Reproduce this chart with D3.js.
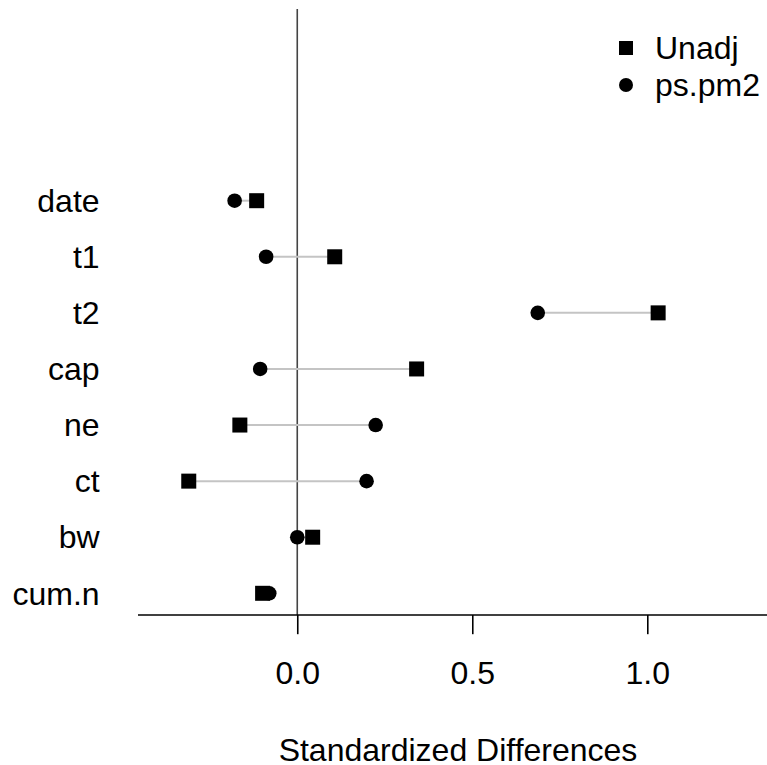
<!DOCTYPE html>
<html>
<head>
<meta charset="utf-8">
<script src="https://cdn.jsdelivr.net/npm/d3@7"></script>
<style>
  body { margin: 0; background: #fff; }
  text { font-family: "Liberation Sans", Arial, Helvetica, sans-serif; }
</style>
</head>
<body>
<svg id="chart" width="767" height="765"></svg>
<script>
// covariates, top to bottom
const covariates = ['date', 't1', 't2', 'cap', 'ne', 'ct', 'bw', 'cum.n'];
const unadj = [-0.116, 0.107, 1.031, 0.341, -0.164, -0.310, 0.044, -0.099];
const psPm2 = [-0.179, -0.089, 0.687, -0.106, 0.224, 0.198, 0.000, -0.080];
const xTicks = [0, 0.5, 1.0];
const seriesNames = ['Unadj', 'ps.pm2'];

const svg = d3.select('#chart');
const width = +svg.attr('width');
const height = +svg.attr('height');

const fontSize = 32;
const lineH = fontSize * 1.2;   // one margin line, as in base R

const xScale = d3.scaleLinear()
  .domain([-0.455, 1.342])
  .range([138, width]);

const yScale = d3.scalePoint()
  .domain(covariates)
  .range([200.7, 593.3]);

const axisY = 615;

// zero reference line
svg.append('line')
  .attr('x1', xScale(0)).attr('x2', xScale(0))
  .attr('y1', 9).attr('y2', axisY)
  .attr('stroke', '#444')
  .attr('stroke-width', 1.6);

// connecting segments
const rows = covariates.map((c, i) => ({ name: c, u: unadj[i], p: psPm2[i] }));
svg.selectAll('line.seg').data(rows)
  .enter().append('line')
    .attr('class', 'seg')
    .attr('x1', d => xScale(d.u))
    .attr('x2', d => xScale(d.p))
    .attr('y1', d => yScale(d.name))
    .attr('y2', d => yScale(d.name))
    .attr('stroke', '#c4c4c4')
    .attr('stroke-width', 2);

const sq = 15;
svg.selectAll('rect.unadj').data(rows)
  .enter().append('rect')
    .attr('class', 'unadj')
    .attr('x', d => xScale(d.u) - sq / 2)
    .attr('y', d => yScale(d.name) - sq / 2)
    .attr('width', sq).attr('height', sq)
    .attr('fill', '#000');

svg.selectAll('circle.ps').data(rows)
  .enter().append('circle')
    .attr('class', 'ps')
    .attr('cx', d => xScale(d.p))
    .attr('cy', d => yScale(d.name))
    .attr('r', 7.3)
    .attr('fill', '#000');

// covariate labels
svg.selectAll('text.cov').data(covariates)
  .enter().append('text')
    .attr('class', 'cov')
    .attr('x', xScale.range()[0] - lineH)
    .attr('y', d => yScale(d))
    .attr('dy', '0.35em')
    .attr('text-anchor', 'end')
    .attr('font-size', fontSize)
    .text(d => d);

// x axis
const xAxis = d3.axisBottom(xScale)
  .tickValues(xTicks)
  .tickFormat(d3.format('.1f'))
  .tickSize(lineH / 2)
  .tickPadding(0);

const xAxisG = svg.append('g')
  .attr('transform', `translate(0,${axisY})`)
  .call(xAxis);
xAxisG.select('.domain')
  .attr('d', `M${xScale.range()[0]},0H${xScale.range()[1]}`)
  .attr('stroke', '#000')
  .attr('stroke-width', 1.6);
xAxisG.selectAll('.tick line').attr('stroke', '#000').attr('stroke-width', 1.6);
xAxisG.selectAll('.tick text')
  .attr('y', lineH * 1.8)
  .attr('dy', null)
  .attr('font-size', fontSize)
  .attr('font-family', '"Liberation Sans", Arial, sans-serif')
  .attr('fill', '#000');

svg.append('text')
  .attr('x', 458)
  .attr('y', axisY + lineH * 3.8)
  .attr('text-anchor', 'middle')
  .attr('font-size', fontSize)
  .text('Standardized Differences');

// legend
const legend = svg.append('g');
seriesNames.forEach((name, i) => {
  const ly = 48 + i * 37;
  if (i === 0) {
    legend.append('rect')
      .attr('x', 626 - 7).attr('y', ly - 7)
      .attr('width', 14).attr('height', 14)
      .attr('fill', '#000');
  } else {
    legend.append('circle')
      .attr('cx', 626).attr('cy', ly).attr('r', 7)
      .attr('fill', '#000');
  }
  legend.append('text')
    .attr('x', 655)
    .attr('y', ly)
    .attr('dy', '0.35em')
    .attr('font-size', fontSize)
    .text(name);
});
</script>
</body>
</html>
